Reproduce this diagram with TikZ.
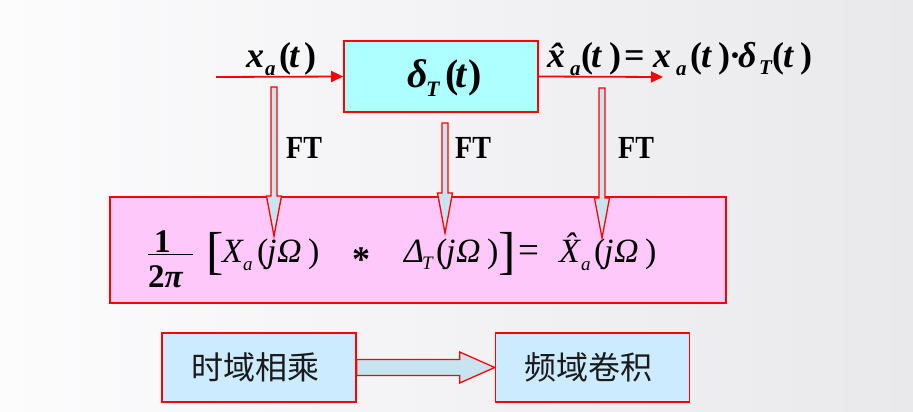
\documentclass[tikz,border=0pt]{standalone}
\usepackage{fontspec}
\setmainfont{Liberation Serif}
\newfontfamily\cjk{Noto Sans CJK SC}
\usetikzlibrary{arrows.meta,calc}
\definecolor{cyanfill}{HTML}{AEFFFF}
\definecolor{pinkfill}{HTML}{FFC8FA}
\definecolor{bluefill}{HTML}{CDEBFF}
\definecolor{arrowfill}{HTML}{C8E4F0}
\definecolor{bgA}{HTML}{FCFCFD}
\definecolor{bgB}{HTML}{E9E9EC}
\definecolor{ink}{HTML}{1A1A1A}
% subscript: [lowering]{size}{text}
\newcommand\sbs[3][8]{\raisebox{-#1pt}{\fontsize{#2}{#2}\selectfont #3}}
\newcommand\putat[2]{\makebox[0pt][l]{\hspace{#1pt}#2}}
\newcommand\up[1]{\textup{#1}}
\newcommand\vhollow[2]{%
  \draw[hollow] ($(#1)+(-3,0)$) -- ($(#2)+(-3,-40)$) -- ($(#2)+(-7.5,-40)$) -- (#2)
    -- ($(#2)+(7.5,-40)$) -- ($(#2)+(3,-40)$) -- ($(#1)+(3,0)$) -- cycle;}
\tikzset{
  redline/.style={draw=red, line width=1.6pt},
  sysbox/.style={redline, fill=cyanfill, minimum width=194pt, minimum height=71pt, inner sep=0pt},
  pinkbox/.style={redline, fill=pinkfill, minimum width=616pt, minimum height=106pt, inner sep=0pt},
  bluebox/.style={redline, fill=bluefill, minimum width=194pt, minimum height=69pt, inner sep=0pt, text=ink},
  sig/.style={red, line width=1.8pt, -{Triangle[length=12pt,width=11pt]}},
  hollow/.style={draw=red, line width=1.3pt, fill=arrowfill, line join=miter},
  toplbl/.style={anchor=base west, inner sep=0pt, font=\fontsize{36}{36}\selectfont\bfseries\itshape},
  ftlbl/.style={anchor=base west, inner sep=0pt, font=\fontsize{28}{28}\selectfont\bfseries},
}
\begin{document}
\begin{tikzpicture}[x=1pt, y=-1pt]
\shade[left color=bgA, right color=bgB] (0,0) rectangle (913,412);
\useasboundingbox (0,0) rectangle (913,412);

% system box and signal lines
\node[sysbox, text height=23pt, text depth=0pt,
      font=\fontsize{40}{40}\selectfont\bfseries\itshape] (sys) at (441,76.5)
  {\makebox[82pt][l]{\hspace{7pt}\putat{0}{δ}\putat{19}{\sbs[9]{22}{T}}\putat{38}{\up{(}}\putat{48}{t}\putat{61}{\up{)}}}};
\coordinate (in) at (216,77);
\coordinate (out) at (663,77);
\draw[sig] (in) -- (sys.west);
\draw[sig] (sys.east) -- (out);
\node[toplbl] (lin) at (246,67)
  {\makebox[71pt][l]{\putat{0}{x}\putat{19}{\sbs{21}{a}}\putat{33}{\up{(}}\putat{43}{t}\putat{58}{\up{)}}}};
\node[toplbl] (lout) at (545,67)
  {\makebox[273pt][l]{\putat{2}{\^{x}}\putat{25}{\sbs{21}{a}}\putat{36}{\up{(}}\putat{46}{t}\putat{64}{\up{)}}%
   \putat{79}{\up{=}}%
   \putat{108}{x}\putat{131}{\sbs{21}{a}}\putat{145}{\up{(}}\putat{156}{t}\putat{173}{\up{)}}%
   \putat{184}{\up{·}}%
   \putat{193}{δ}\putat{214}{\sbs[7]{21}{T}}\putat{227}{\up{(}}\putat{238}{t}\putat{255}{\up{)}}}};

% frequency-domain box
\node[pinkbox] (conv) at (418,250) {};
\node[anchor=base west, inner sep=0pt, font=\fontsize{34}{34}\selectfont] (formula) at (148,262) {%
  \makebox[510pt][l]{%
  \putat{0}{\rule[7pt]{45pt}{1.3pt}}%
  \putat{6}{\raisebox{10pt}{\fontsize{33}{33}\selectfont\bfseries 1}}%
  \putat{0}{\raisebox{-25pt}{\fontsize{33}{33}\selectfont\bfseries 2\itshape π}}%
  \putat{58}{\raisebox{-6pt}{\fontsize{52}{52}\selectfont [}}%
  \putat{74}{\itshape X}\putat{95}{\sbs[8]{19}{\itshape a}}%
  \putat{109}{(}\putat{119}{\itshape j}\putat{129}{\itshape Ω}\putat{160}{)}%
  \putat{204}{\raisebox{-9pt}{\fontsize{36}{36}\selectfont\bfseries *}}%
  \putat{256}{\itshape Δ}\putat{274}{\sbs[7]{19}{\itshape T}}%
  \putat{288}{(}\putat{298}{\itshape j}\putat{308}{\itshape Ω}\putat{339}{)}%
  \putat{350}{\raisebox{-6pt}{\fontsize{52}{52}\selectfont ]}}%
  \putat{370}{\fontsize{37}{37}\selectfont =}%
  \putat{411}{\itshape \^{X}}\putat{433}{\sbs[8]{19}{\itshape a}}%
  \putat{446}{(}\putat{456}{\itshape j}\putat{466}{\itshape Ω}\putat{497}{)}}};

% FT arrows
\coordinate (ftAt) at (274,87);
\coordinate (ftAb) at (274,236);
\coordinate (ftBt) at (445,123);
\coordinate (ftBb) at (445,233);
\coordinate (ftCt) at (602,88);
\coordinate (ftCb) at (602,238);
\vhollow{ftAt}{ftAb}
\vhollow{ftBt}{ftBb}
\vhollow{ftCt}{ftCb}
\node[ftlbl] (ftA) at (286,158) {\scalebox{1}[1.15]{FT}};
\node[ftlbl] (ftB) at (455,158) {\scalebox{1}[1.15]{FT}};
\node[ftlbl] (ftC) at (618,158) {\scalebox{1}[1.15]{FT}};

% bottom boxes
\node[bluebox] (tdom) at (259,367.5) {\cjk\fontsize{32}{32}\selectfont\makebox[136pt][l]{时域相乘}};
\node[bluebox] (fdom) at (592.5,367.5) {\cjk\fontsize{32}{32}\selectfont\makebox[136pt][l]{频域卷积}};
\draw[hollow] ($(tdom.east)+(0,-8)$) -- ($(fdom.west)+(-35,-8)$) -- ($(fdom.west)+(-35,-15.5)$)
  -- (fdom.west) -- ($(fdom.west)+(-35,15.5)$) -- ($(fdom.west)+(-35,8)$) -- ($(tdom.east)+(0,8)$) -- cycle;
\end{tikzpicture}
\end{document}
